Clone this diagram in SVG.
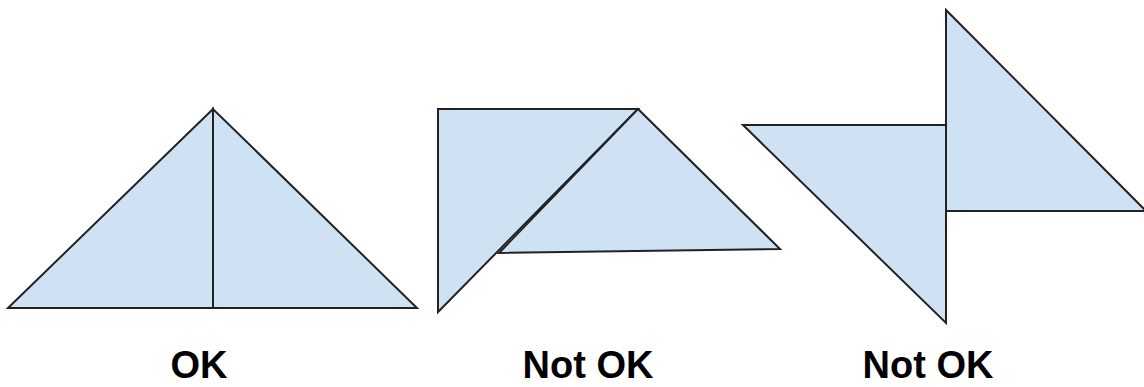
<svg xmlns="http://www.w3.org/2000/svg" width="1144" height="387" viewBox="0 0 1144 387">
<style>
.tri{fill:#cfe2f3;stroke:#222;stroke-width:2;stroke-linejoin:miter}
.lbl{font-family:"Liberation Sans",Arial,sans-serif;font-weight:bold;font-size:38px;fill:#000;text-anchor:middle}
</style>
<rect width="1144" height="387" fill="#fff"/>
<g id="ok">
<polygon class="tri" points="213,109 8,308 213,308"/>
<polygon class="tri" points="213,109 213,308 417,308"/>
</g>
<g id="notok1">
<polygon class="tri" points="438,109 638,109 438,312"/>
<polygon class="tri" points="638,109 499,253 780,249"/>
</g>
<g id="notok2">
<polygon class="tri" points="743,125 946,125 946,323"/>
<polygon class="tri" points="946,10 946,211 1146,211"/>
</g>
<g id="labels">
<text class="lbl" x="199" y="378">OK</text>
<text class="lbl" x="588" y="378">Not OK</text>
<text class="lbl" x="928" y="378">Not OK</text>
</g>
</svg>
